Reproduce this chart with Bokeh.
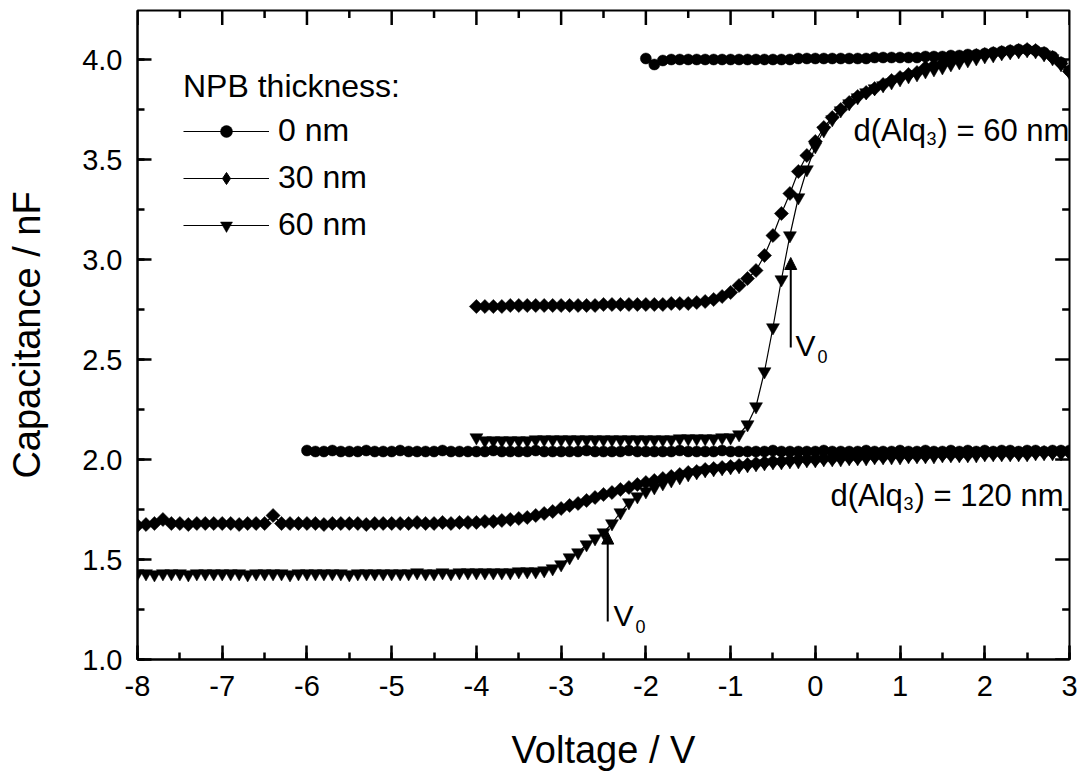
import numpy as np
from bokeh.plotting import figure
from bokeh.models import (NumeralTickFormatter, SingleIntervalTicker, Legend,
                          LegendItem, Label, Arrow, NormalHead, Range1d)
from bokeh.embed import file_html
from bokeh.resources import INLINE

FONT = "Liberation Sans"

# ---- data: voltage sweeps (step 0.1 V) and capacitance (nF) ----
STEP = 0.1
# d(Alq3) = 60 nm
v_a0_start, v_a0_stop = -2.0, 3.0
c_a0 = [4.005, 3.975, 3.995, 4.0, 4.0, 4.0, 4.0, 4.0, 4.0, 4.0,
        4.0, 4.0, 4.0, 4.0, 4.0, 4.0, 4.0, 4.0, 4.005, 4.005,
        4.005, 4.005, 4.005, 4.005, 4.005, 4.005, 4.005, 4.01, 4.01, 4.01,
        4.01, 4.01, 4.01, 4.015, 4.015, 4.015, 4.02, 4.02, 4.025, 4.025,
        4.03, 4.035, 4.04, 4.045, 4.05, 4.05, 4.045, 4.035, 4.015, 3.985,
        3.945]
v_a30_start, v_a30_stop = -4.0, 3.0
c_a30 = [2.765, 2.765, 2.765, 2.765, 2.77, 2.77, 2.77, 2.77, 2.77, 2.77,
         2.77, 2.77, 2.77, 2.77, 2.77, 2.775, 2.775, 2.775, 2.775, 2.775,
         2.775, 2.775, 2.775, 2.78, 2.78, 2.78, 2.785, 2.79, 2.80, 2.815,
         2.835, 2.87, 2.905, 2.945, 3.02, 3.12, 3.23, 3.33, 3.44, 3.52,
         3.59, 3.66, 3.71, 3.75, 3.785, 3.815, 3.835, 3.855, 3.875, 3.895,
         3.91, 3.925, 3.935, 3.96, 3.97, 3.98, 3.99, 4.0, 4.01, 4.02,
         4.025, 4.03, 4.035, 4.04, 4.045, 4.05, 4.045, 4.03, 4.01, 3.98,
         3.94]
v_a60_start, v_a60_stop = -4.0, 3.0
c_a60 = [2.11, 2.095, 2.095, 2.095, 2.095, 2.095, 2.095, 2.1, 2.1, 2.1,
         2.1, 2.1, 2.1, 2.1, 2.1, 2.1, 2.1, 2.1, 2.1, 2.1,
         2.1, 2.1, 2.1, 2.1, 2.105, 2.105, 2.105, 2.105, 2.105, 2.11,
         2.11, 2.125, 2.175, 2.265, 2.44, 2.66, 2.90, 3.12, 3.31, 3.45,
         3.565, 3.645, 3.70, 3.745, 3.78, 3.81, 3.835, 3.855, 3.87, 3.885,
         3.90, 3.915, 3.925, 3.94, 3.95, 3.96, 3.975, 3.985, 3.995, 4.005,
         4.015, 4.02, 4.03, 4.035, 4.04, 4.045, 4.04, 4.025, 4.005, 3.975,
         3.935]
# d(Alq3) = 120 nm
v_b0_start, v_b0_stop = -6.0, 3.0
c_b0 = [2.045, 2.04, 2.04, 2.045, 2.04, 2.04, 2.04, 2.045, 2.04, 2.04,
        2.04, 2.045, 2.04, 2.04, 2.04, 2.04, 2.045, 2.04, 2.04, 2.04,
        2.04, 2.04, 2.045, 2.04, 2.04, 2.04, 2.04, 2.045, 2.04, 2.04,
        2.04, 2.04, 2.04, 2.045, 2.04, 2.04, 2.04, 2.04, 2.045, 2.04,
        2.04, 2.04, 2.04, 2.04, 2.045, 2.04, 2.04, 2.04, 2.04, 2.045,
        2.04, 2.04, 2.04, 2.04, 2.04, 2.045, 2.04, 2.04, 2.04, 2.04,
        2.04, 2.045, 2.04, 2.04, 2.04, 2.04, 2.045, 2.04, 2.04, 2.04,
        2.045, 2.04, 2.04, 2.045, 2.04, 2.04, 2.045, 2.04, 2.045, 2.04,
        2.045, 2.04, 2.045, 2.045, 2.04, 2.045, 2.045, 2.04, 2.045, 2.045,
        2.045]
v_b30_start, v_b30_stop = -8.0, 3.0
c_b30 = [1.67, 1.675, 1.68, 1.70, 1.68, 1.68, 1.675, 1.68, 1.68, 1.68,
         1.68, 1.68, 1.675, 1.68, 1.68, 1.68, 1.72, 1.68, 1.68, 1.68,
         1.68, 1.68, 1.675, 1.68, 1.68, 1.68, 1.68, 1.675, 1.68, 1.68,
         1.68, 1.68, 1.68, 1.685, 1.68, 1.68, 1.685, 1.68, 1.685, 1.685,
         1.685, 1.69, 1.69, 1.695, 1.70, 1.705, 1.71, 1.72, 1.73, 1.74,
         1.755, 1.77, 1.78, 1.795, 1.81, 1.825, 1.835, 1.85, 1.86, 1.875,
         1.885, 1.895, 1.905, 1.915, 1.925, 1.935, 1.94, 1.95, 1.955, 1.96,
         1.965, 1.97, 1.975, 1.98, 1.985, 1.99, 1.99, 1.995, 2.0, 2.0,
         2.0, 2.005, 2.005, 2.01, 2.01, 2.01, 2.015, 2.015, 2.015, 2.02,
         2.02, 2.02, 2.02, 2.02, 2.025, 2.025, 2.025, 2.025, 2.025, 2.03,
         2.03, 2.03, 2.03, 2.03, 2.03, 2.03, 2.035, 2.035, 2.035, 2.035,
         2.035]
v_b60_start, v_b60_stop = -8.0, 3.0
c_b60 = [1.43, 1.43, 1.425, 1.43, 1.43, 1.43, 1.425, 1.43, 1.43, 1.43,
         1.43, 1.43, 1.43, 1.425, 1.43, 1.43, 1.43, 1.43, 1.425, 1.43,
         1.43, 1.43, 1.43, 1.43, 1.43, 1.425, 1.43, 1.43, 1.43, 1.43,
         1.43, 1.43, 1.43, 1.435, 1.43, 1.43, 1.435, 1.43, 1.435, 1.435,
         1.435, 1.435, 1.435, 1.435, 1.435, 1.44, 1.44, 1.44, 1.445, 1.455,
         1.475, 1.51, 1.535, 1.575, 1.605, 1.635, 1.68, 1.735, 1.785, 1.815,
         1.84, 1.86, 1.88, 1.895, 1.91, 1.925, 1.935, 1.945, 1.95, 1.955,
         1.96, 1.965, 1.97, 1.975, 1.98, 1.985, 1.985, 1.99, 1.99, 1.995,
         1.995, 2.0, 2.0, 2.0, 2.005, 2.005, 2.005, 2.01, 2.01, 2.01,
         2.01, 2.015, 2.015, 2.015, 2.015, 2.02, 2.02, 2.02, 2.02, 2.02,
         2.025, 2.025, 2.025, 2.025, 2.025, 2.025, 2.03, 2.03, 2.03, 2.03,
         2.03]

legend_labels = ["0 nm", "30 nm", "60 nm"]
legend_title = "NPB thickness:"
x_lim = (-8, 3)
y_lim = (1.0, 4.245)
x_major = [-8, -7, -6, -5, -4, -3, -2, -1, 0, 1, 2, 3]
x_minor = [-7.5, -6.5, -5.5, -4.5, -3.5, -2.5, -1.5, -0.5, 0.5, 1.5, 2.5]
y_major = [1.0, 1.5, 2.0, 2.5, 3.0, 3.5, 4.0]
y_minor = [1.25, 1.75, 2.25, 2.75, 3.25, 3.75]

# V0 arrows: x, y_start, y_end
v0_x = [-0.29, -2.45]
v0_y0 = [2.56, 1.19]
v0_y1 = [3.01, 1.637]
v0_label_x = [-0.234, -2.382]
v0_label_y = [2.57, 1.22]

# d(Alq3) annotations
alq_x = [0.451, 0.179]
alq_y = [3.645, 1.82]
alq_rest = [") = 60 nm", ") = 120 nm"]

MAJOR_LEN = 14
MINOR_LEN = 7
TICK_W = 2.5


def sweep(start, stop):
    n = int(round((stop - start) / STEP)) + 1
    return np.round(start + STEP * np.arange(n), 2)


p = figure(width=1080, height=775,
           x_range=Range1d(*x_lim), y_range=Range1d(*y_lim),
           output_backend="svg", toolbar_location=None,
           min_border_left=137, min_border_right=11, min_border_top=10, min_border_bottom=116,
           x_axis_label="Voltage / V", y_axis_label="Capacitance / nF")
p.grid.visible = False
p.outline_line_color = "black"
p.outline_line_width = 2
p.background_fill_color = "white"
p.border_fill_color = "white"

xt = SingleIntervalTicker(interval=1, num_minor_ticks=2)
yt = SingleIntervalTicker(interval=0.5, num_minor_ticks=2)


def style_axis(ax):
    ax.axis_line_color = "black"
    ax.axis_line_width = 2
    ax.major_tick_line_width = TICK_W
    ax.minor_tick_line_width = TICK_W
    ax.major_tick_line_color = "black"
    ax.minor_tick_line_color = "black"
    ax.major_tick_in = MAJOR_LEN
    ax.major_tick_out = 0
    ax.minor_tick_in = MINOR_LEN
    ax.minor_tick_out = 0
    ax.major_label_text_font = FONT
    ax.major_label_text_color = "black"
    ax.major_label_text_font_size = "29px"
    ax.axis_label_text_font = FONT
    ax.axis_label_text_font_style = "normal"
    ax.axis_label_text_color = "black"
    ax.axis_label_text_font_size = "38px"


xa = p.xaxis[0]
xa.ticker = xt
xa.formatter = NumeralTickFormatter(format="0")
style_axis(xa)
xa.major_label_standoff = 16
xa.axis_label_standoff = 30
ya = p.yaxis[0]
ya.ticker = yt
ya.formatter = NumeralTickFormatter(format="0.0")
style_axis(ya)
ya.major_label_standoff = 15
ya.axis_label_standoff = 31

# mirrored ticks on the top and right edges (drawn as rays pointing into the frame)
y_top = y_lim[1] - 0.002
x_right = x_lim[1] - 0.004
p.ray(x=x_major, y=[y_top] * len(x_major), length=MAJOR_LEN, length_units="screen",
      angle=-np.pi / 2, line_color="black", line_width=TICK_W)
p.ray(x=x_minor, y=[y_top] * len(x_minor), length=MINOR_LEN, length_units="screen",
      angle=-np.pi / 2, line_color="black", line_width=TICK_W)
p.ray(x=[x_right] * len(y_major), y=y_major, length=MAJOR_LEN, length_units="screen",
      angle=np.pi, line_color="black", line_width=TICK_W)
p.ray(x=[x_right] * len(y_minor), y=y_minor, length=MINOR_LEN, length_units="screen",
      angle=np.pi, line_color="black", line_width=TICK_W)

series = [
    (sweep(v_a0_start, v_a0_stop), c_a0, "circle", 11, 0),
    (sweep(v_a30_start, v_a30_stop), c_a30, "square", 10, np.pi / 4),
    (sweep(v_a60_start, v_a60_stop), c_a60, "inverted_triangle", 13, 0),
    (sweep(v_b0_start, v_b0_stop), c_b0, "circle", 11, 0),
    (sweep(v_b30_start, v_b30_stop), c_b30, "square", 10, np.pi / 4),
    (sweep(v_b60_start, v_b60_stop), c_b60, "inverted_triangle", 13, 0),
]
rends = []
for xs, ys, mk, sz, ang in series:
    ln = p.line(xs, ys, line_color="black", line_width=1.2)
    sc = p.scatter(xs, ys, marker=mk, size=sz, angle=ang, fill_color="black",
                   line_color="black", line_width=0.5)
    rends.append((ln, sc))

# legend sample for the diamond series (legend ignores marker angle)
legend_diamond = p.scatter([np.nan], [np.nan], marker="diamond", fill_color="black",
                           line_color="black")
legend_marks = [rends[0][1], legend_diamond, rends[2][1]]

items = [LegendItem(label=legend_labels[i], renderers=[rends[i][0], legend_marks[i]])
         for i in range(3)]
leg = Legend(items=items, location=(46, 416), title=legend_title,
             border_line_color=None, background_fill_alpha=0, padding=0, margin=0,
             spacing=10, glyph_width=86, glyph_height=30, label_height=30,
             label_standoff=9, label_text_font=FONT, label_text_font_size="32px",
             label_text_color="black",
             title_text_font=FONT, title_text_font_style="normal", title_text_font_size="32px",
             title_text_color="black", title_standoff=7)
p.add_layout(leg)

for i in range(2):
    p.add_layout(Arrow(end=NormalHead(size=12, fill_color="black", line_color="black"),
                       x_start=v0_x[i], y_start=v0_y0[i], x_end=v0_x[i], y_end=v0_y1[i],
                       line_color="black", line_width=2))
    p.add_layout(Label(x=v0_label_x[i], y=v0_label_y[i], text="V", text_font=FONT,
                       text_font_size="30px", text_baseline="alphabetic", text_color="black"))
    p.add_layout(Label(x=v0_label_x[i], y=v0_label_y[i], x_offset=22, y_offset=-11, text="0",
                       text_font=FONT, text_font_size="18px", text_baseline="alphabetic",
                       text_color="black"))
    p.add_layout(Label(x=alq_x[i], y=alq_y[i], text="d(Alq", text_font=FONT,
                       text_font_size="31px", text_baseline="alphabetic", text_color="black"))
    p.add_layout(Label(x=alq_x[i], y=alq_y[i], x_offset=73, y_offset=-8, text="3", text_font=FONT,
                       text_font_size="18px", text_baseline="alphabetic", text_color="black"))
    p.add_layout(Label(x=alq_x[i], y=alq_y[i], x_offset=84, text=alq_rest[i], text_font=FONT,
                       text_font_size="31px", text_baseline="alphabetic", text_color="black"))

open("out.html", "w").write(file_html(p, INLINE))
